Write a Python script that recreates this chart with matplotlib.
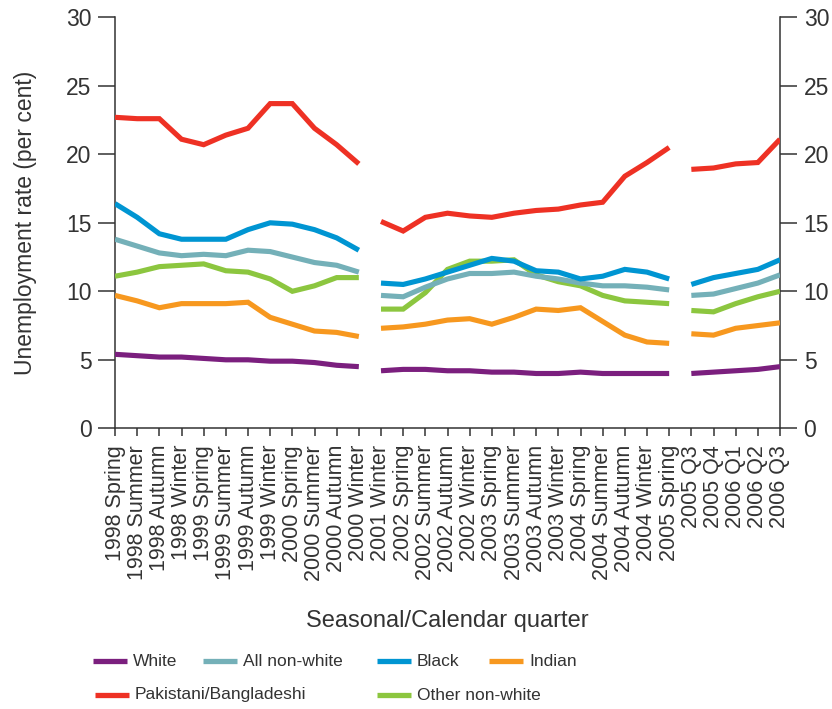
import matplotlib
matplotlib.use("Agg")
import matplotlib.pyplot as plt
from matplotlib.lines import Line2D
import numpy as np

plt.rcParams['font.family'] = ['Liberation Sans', 'DejaVu Sans']

quarters = ["1998 Spring", "1998 Summer", "1998 Autumn", "1998 Winter",
            "1999 Spring", "1999 Summer", "1999 Autumn", "1999 Winter",
            "2000 Spring", "2000 Summer", "2000 Autumn", "2000 Winter",
            "2001 Winter", "2002 Spring", "2002 Summer", "2002 Autumn",
            "2002 Winter", "2003 Spring", "2003 Summer", "2003 Autumn",
            "2003 Winter", "2004 Spring", "2004 Summer", "2004 Autumn",
            "2004 Winter", "2005 Spring", "2005 Q3", "2005 Q4",
            "2006 Q1", "2006 Q2", "2006 Q3"]

# segments: series are broken between these index ranges
segments = [(0, 12), (12, 26), (26, 31)]

white = [5.4, 5.3, 5.2, 5.2, 5.1, 5.0, 5.0, 4.9, 4.9, 4.8, 4.6, 4.5,
         4.2, 4.3, 4.3, 4.2, 4.2, 4.1, 4.1, 4.0, 4.0, 4.1, 4.0, 4.0, 4.0, 4.0,
         4.0, 4.1, 4.2, 4.3, 4.5]
all_non_white = [13.8, 13.3, 12.8, 12.6, 12.7, 12.6, 13.0, 12.9, 12.5, 12.1, 11.9, 11.4,
                 9.7, 9.6, 10.3, 10.9, 11.3, 11.3, 11.4, 11.1, 10.9, 10.6, 10.4, 10.4, 10.3, 10.1,
                 9.7, 9.8, 10.2, 10.6, 11.2]
black = [16.4, 15.4, 14.2, 13.8, 13.8, 13.8, 14.5, 15.0, 14.9, 14.5, 13.9, 13.0,
         10.6, 10.5, 10.9, 11.4, 11.9, 12.4, 12.2, 11.5, 11.4, 10.9, 11.1, 11.6, 11.4, 10.9,
         10.5, 11.0, 11.3, 11.6, 12.3]
indian = [9.7, 9.3, 8.8, 9.1, 9.1, 9.1, 9.2, 8.1, 7.6, 7.1, 7.0, 6.7,
          7.3, 7.4, 7.6, 7.9, 8.0, 7.6, 8.1, 8.7, 8.6, 8.8, 7.8, 6.8, 6.3, 6.2,
          6.9, 6.8, 7.3, 7.5, 7.7]
pak_bang = [22.7, 22.6, 22.6, 21.1, 20.7, 21.4, 21.9, 23.7, 23.7, 21.9, 20.7, 19.3,
            15.1, 14.4, 15.4, 15.7, 15.5, 15.4, 15.7, 15.9, 16.0, 16.3, 16.5, 18.4, 19.4, 20.5,
            18.9, 19.0, 19.3, 19.4, 21.1]
other_non_white = [11.1, 11.4, 11.8, 11.9, 12.0, 11.5, 11.4, 10.9, 10.0, 10.4, 11.0, 11.0,
                   8.7, 8.7, 9.9, 11.6, 12.2, 12.2, 12.3, 11.2, 10.7, 10.4, 9.7, 9.3, 9.2, 9.1,
                   8.6, 8.5, 9.1, 9.6, 10.0]

series = [
    ("White", white, "#7B1F7E", 6),
    ("All non-white", all_non_white, "#74B0B8", 5),
    ("Black", black, "#0095D2", 6),
    ("Indian", indian, "#F7981F", 4),
    ("Pakistani/Bangladeshi", pak_bang, "#EE3124", 4),
    ("Other non-white", other_non_white, "#8CC63F", 3),
]

text_col = "#333333"
axis_col = "#333333"

fig = plt.figure(figsize=(8.32, 7.09), dpi=100)
ax = fig.add_axes([115/832, 1 - 428.3/709, (780-115)/832, (428.3-17.3)/709])

x = np.arange(len(quarters))
for name, vals, col, z in series:
    v = np.array(vals, dtype=float)
    for s, e in segments:
        ax.plot(x[s:e], v[s:e], color=col, lw=3.7, solid_joinstyle='miter',
                solid_capstyle='butt', zorder=z)

ax.set_xlim(0, len(quarters) - 1)
ax.set_ylim(0, 30)
ax.set_yticks(np.arange(0, 31, 5))
ax.set_xticks(x)
ax.set_xticklabels(quarters, rotation=90, fontsize=15.5, color=text_col)
ax.tick_params(axis='y', which='both', direction='out', length=12, width=1.1,
               color=axis_col, labelsize=16.5, labelcolor=text_col, pad=5,
               left=True, right=True, labelleft=True, labelright=True)
ax.tick_params(axis='x', direction='out', length=6, width=1.1, color=axis_col, pad=6)

for side in ['left', 'right', 'bottom']:
    ax.spines[side].set_color(axis_col)
    ax.spines[side].set_linewidth(1.1)
ax.spines['top'].set_visible(False)

ax.set_ylabel("Unemployment rate (per cent)", fontsize=16.5, color=text_col, labelpad=21)
ax.set_xlabel("Seasonal/Calendar quarter", fontsize=17, color=text_col, labelpad=21)

# legend laid out as in reference (4 column grid, two rows)
legend_items = [
    ("White", "#7B1F7E", 93, 661),
    ("All non-white", "#74B0B8", 203, 661),
    ("Black", "#0095D2", 377, 661),
    ("Indian", "#F7981F", 489, 661),
    ("Pakistani/Bangladeshi", "#EE3124", 95, 695),
    ("Other non-white", "#8CC63F", 377, 695),
]
W, H = 832, 709
for label, col, px, py in legend_items:
    fig.add_artist(Line2D([px / W, (px + 34) / W], [1 - py / H, 1 - py / H],
                          color=col, lw=3.8, solid_capstyle='butt',
                          transform=fig.transFigure))
    fig.text((px + 40) / W, 1 - py / H, label, fontsize=12.5, color=text_col,
             va='center', ha='left')

fig.savefig("out.png", dpi=100)
